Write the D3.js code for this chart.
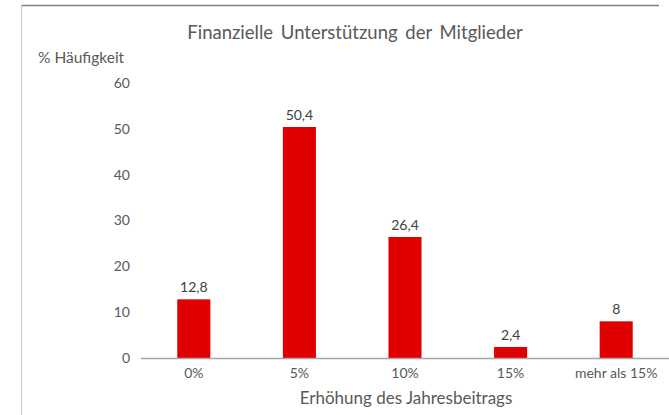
<!DOCTYPE html>
<html>
<head>
<meta charset="utf-8">
<script src="https://cdn.jsdelivr.net/npm/d3@7"></script>
<style>
  body { margin: 0; background: #fff; }
  svg { display: block; font-family: Lato, "Open Sans", sans-serif; }
</style>
</head>
<body>
<svg id="chart" width="669" height="415"></svg>
<script>
var categories = ["0%", "5%", "10%", "15%", "mehr als 15%"];
var values = [12.8, 50.4, 26.4, 2.4, 8];
var valueLabels = ["12,8", "50,4", "26,4", "2,4", "8"];
var yTicks = [0, 10, 20, 30, 40, 50, 60];

var svg = d3.select("#chart");

// frame lines
svg.append("line").attr("x1", 21).attr("x2", 659).attr("y1", 5.5).attr("y2", 5.5)
  .attr("stroke", "#7f7f7f").attr("stroke-width", 1.5);
svg.append("line").attr("x1", 21.5).attr("x2", 21.5).attr("y1", 5).attr("y2", 415)
  .attr("stroke", "#c8c8c8").attr("stroke-width", 1);

var x = d3.scaleBand().domain(categories).range([141, 669]).paddingInner(0.687).paddingOuter(0.3435);
var y = d3.scaleLinear().domain([0, 60]).range([358, 83]);

// y axis labels (no line)
var yAxis = d3.axisLeft(y).tickValues(yTicks).tickSize(0).tickPadding(0);
var gy = svg.append("g").attr("transform", "translate(130,0)").call(yAxis);
gy.select(".domain").remove();
gy.selectAll("text").attr("font-size", 14).attr("fill", "#595959").attr("font-family", "Lato, sans-serif");

// bars
svg.selectAll("rect.bar").data(values).enter().append("rect")
  .attr("class", "bar")
  .attr("x", function(d, i) { return x(categories[i]); })
  .attr("width", x.bandwidth())
  .attr("y", function(d) { return y(d); })
  .attr("height", function(d) { return y(0) - y(d); })
  .attr("fill", "#e00000");

// baseline
svg.append("line").attr("x1", 141).attr("x2", 669).attr("y1", y(0) + 0.5).attr("y2", y(0) + 0.5)
  .attr("stroke", "#a6a6a6").attr("stroke-width", 1.5);

// value labels
svg.selectAll("text.val").data(values).enter().append("text")
  .attr("class", "val")
  .attr("x", function(d, i) { return x(categories[i]) + x.bandwidth() / 2; })
  .attr("y", function(d) { return y(d) - 7; })
  .attr("text-anchor", "middle")
  .attr("font-size", 14).attr("fill", "#404040")
  .text(function(d, i) { return valueLabels[i]; });

// x axis labels
var xAxis = d3.axisBottom(x).tickSize(0).tickPadding(0);
var gx = svg.append("g").attr("transform", "translate(0,368)").call(xAxis);
gx.select(".domain").remove();
gx.selectAll("text").attr("font-size", 14).attr("fill", "#595959").attr("font-family", "Lato, sans-serif");

// titles
svg.append("text").attr("x", 355).attr("y", 39).attr("text-anchor", "middle")
  .attr("font-size", 18.5).attr("fill", "#595959").attr("word-spacing", 3)
  .text("Finanzielle Unterstützung der Mitglieder");
svg.append("text").attr("x", 38).attr("y", 63)
  .attr("font-size", 15.5).attr("fill", "#595959")
  .text("% Häufigkeit");
svg.append("text").attr("x", 406).attr("y", 404).attr("text-anchor", "middle")
  .attr("font-size", 17).attr("fill", "#595959")
  .text("Erhöhung des Jahresbeitrags");
</script>
</body>
</html>
